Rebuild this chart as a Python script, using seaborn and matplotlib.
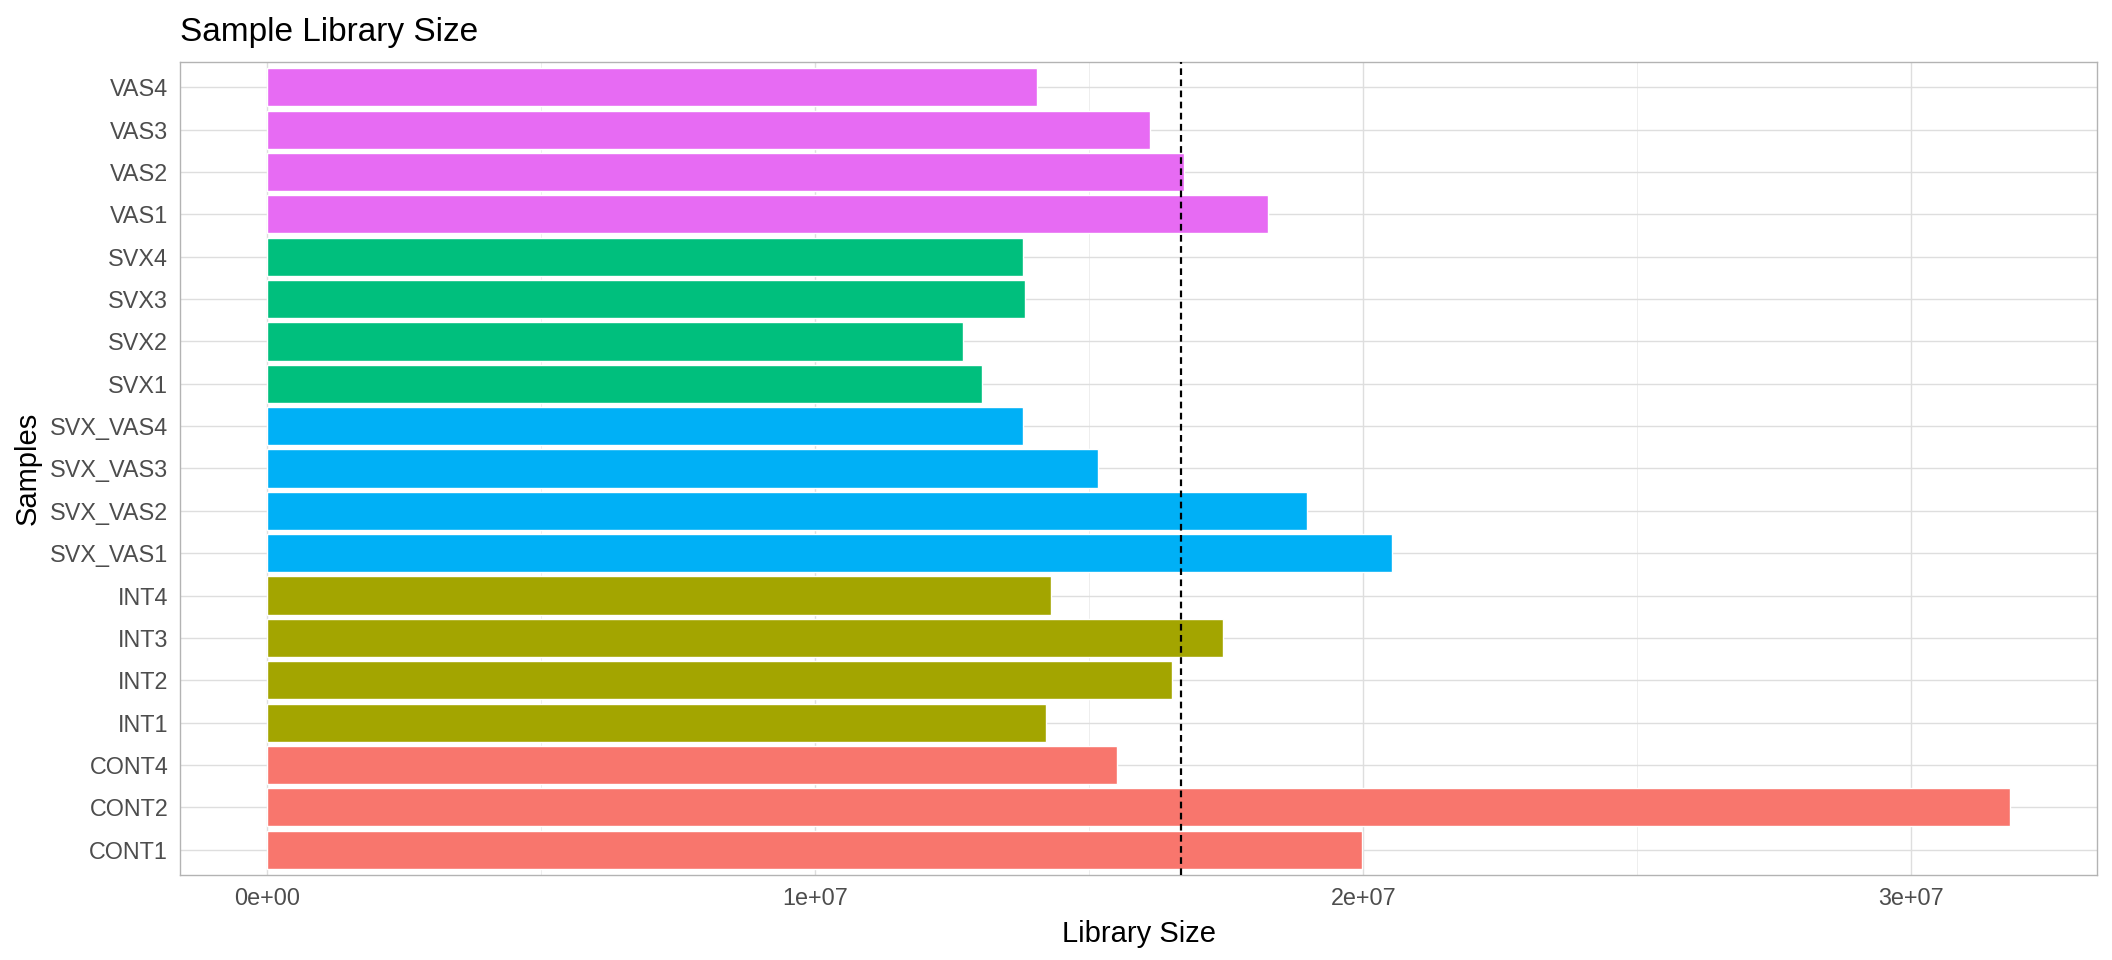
import pandas as pd
import numpy as np
import matplotlib
matplotlib.use("Agg")
import matplotlib.pyplot as plt
import matplotlib.ticker as mticker
import seaborn as sns

# sample names, top of the chart first
samples = [
    "VAS4", "VAS3", "VAS2", "VAS1",
    "SVX4", "SVX3", "SVX2", "SVX1",
    "SVX_VAS4", "SVX_VAS3", "SVX_VAS2", "SVX_VAS1",
    "INT4", "INT3", "INT2", "INT1",
    "CONT4", "CONT2", "CONT1",
]
groups = [
    "VAS", "VAS", "VAS", "VAS",
    "SVX", "SVX", "SVX", "SVX",
    "SVX_VAS", "SVX_VAS", "SVX_VAS", "SVX_VAS",
    "INT", "INT", "INT", "INT",
    "CONT", "CONT", "CONT",
]
lib_size = [
    1.405e7, 1.611e7, 1.673e7, 1.827e7,
    1.380e7, 1.382e7, 1.269e7, 1.304e7,
    1.380e7, 1.516e7, 1.898e7, 2.053e7,
    1.431e7, 1.744e7, 1.651e7, 1.422e7,
    1.551e7, 3.180e7, 1.998e7,
]
group_colors = {
    "CONT": "#F8766D",
    "INT": "#A3A500",
    "SVX_VAS": "#00B0F6",
    "SVX": "#00BF7D",
    "VAS": "#E76BF3",
}

df = pd.DataFrame({"sample": samples, "group": groups, "size": lib_size})
mean_size = df["size"].mean()

sns.set_style("white")
plt.rcParams["font.family"] = ["Liberation Sans", "DejaVu Sans"]

fig = plt.figure(figsize=(21.12, 9.6), dpi=100)
ax = fig.add_axes([180 / 2112, 1 - 875 / 960, (2097 - 180) / 2112, (875 - 62) / 960])

sns.barplot(data=df, y="sample", x="size", hue="group", order=samples,
            palette=group_colors, dodge=False, width=0.9, legend=False,
            saturation=1, ax=ax)

# mean library size
ax.axvline(mean_size, color="black", linestyle=(0, (3, 2)), linewidth=1.6, zorder=5)

# axis ranges like ggplot's default expansion
xmax = df["size"].max()
ax.set_xlim(-0.05 * xmax, 1.05 * xmax)
ax.set_ylim(len(samples) - 1 + 0.6, -0.6)

ax.xaxis.set_major_locator(mticker.MultipleLocator(1e7))
ax.xaxis.set_minor_locator(mticker.MultipleLocator(5e6))
ax.xaxis.set_major_formatter(mticker.FuncFormatter(lambda v, p: f"{v:.0e}"))

ax.set_axisbelow(True)
ax.grid(axis="both", which="major", color="#DEDEDE", linewidth=1.0)
ax.grid(axis="x", which="minor", color="#EBEBEB", linewidth=0.6)

for sp in ax.spines.values():
    sp.set_visible(True)
    sp.set_color("#B3B3B3")
    sp.set_linewidth(1.0)

ax.tick_params(axis="both", which="major", length=5, width=1.0, color="#B3B3B3",
               labelsize=16.8, labelcolor="#4D4D4D", pad=3.5)
ax.tick_params(axis="x", which="minor", length=0)

ax.set_xlabel("Library Size", fontsize=21, color="black", labelpad=7)
ax.set_ylabel("Samples", fontsize=21, color="black")
ax.yaxis.set_label_coords(-0.072, 0.5)

fig.text(180 / 2112, 1 - 41 / 960, "Sample Library Size", fontsize=24,
         color="black", ha="left", va="baseline")

fig.savefig("out.png", dpi=100)
